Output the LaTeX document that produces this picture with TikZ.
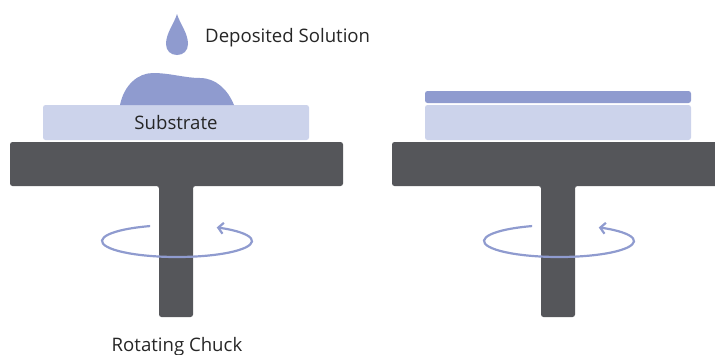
\documentclass[tikz,border=0pt]{standalone}
\usepackage{fontspec}
\setmainfont{Open Sans}
\usetikzlibrary{arrows.meta}

\definecolor{chuckgray}{HTML}{55565A}
\definecolor{waferblue}{HTML}{CCD3EB}
\definecolor{solutionblue}{HTML}{8F9BCF}

\begin{document}
\begin{tikzpicture}[x=1pt, y=-1pt,
            chuck/.style={fill=chuckgray, rounded corners=2.5pt},
            wafer/.style={fill=waferblue, rounded corners=2.5pt},
            solution/.style={fill=solutionblue},
            spin/.style={draw=solutionblue, line width=2.2pt, -{Straight Barb[length=5pt, width=11pt]}},
            caption/.style={font=\fontsize{18.6}{22}\selectfont, text=black!85, inner sep=0pt}]

        \useasboundingbox (0,0) rectangle (715,354);

        % two chucks, the second one shifted right
        \foreach \dx in {0,382} {
            \begin{scope}[xshift=\dx pt]
                \fill[chuck] (10,142) -- (343,142) -- (343,186) -- (193,186) -- (193,317)
                    -- (159,317) -- (159,186) -- (10,186) -- cycle;
                \fill[wafer] (43,105) rectangle (309,140);
                \draw[spin] (177,241) ++(249:75 and 16) arc[start angle=249, end angle=-58, x radius=75, y radius=16];
            \end{scope}
        }

        % spun film on the second wafer
        \fill[solution, rounded corners=2.5pt] (425,91) rectangle (691,103);

        % puddle and falling drop
        \fill[solution] (120,105) .. controls (124,85) and (138,73) .. (153,73)
            .. controls (170,73) and (185,78) .. (200,78)
            .. controls (216,78) and (228,90) .. (234,105) -- cycle;
        \fill[solution] (177,14) .. controls (174,24) and (166,33) .. (166,44)
            .. controls (166,51) and (171,55) .. (177,55)
            .. controls (183,55) and (188,51) .. (188,44)
            .. controls (188,33) and (180,24) .. (177,14) -- cycle;

        \node[caption, anchor=base west] (deposited) at (205,42) {Deposited Solution};
        \node[caption] (substrate) at (176,123) {Substrate};
        \node[caption, anchor=base] (rotating) at (177,351) {Rotating Chuck};
    \end{tikzpicture}
\end{document}
